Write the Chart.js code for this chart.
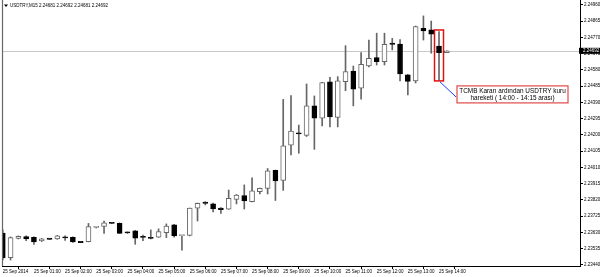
<!DOCTYPE html>
<html>
<head>
<meta charset="utf-8">
<title>USDTRY,M15</title>
<script src="https://cdn.jsdelivr.net/npm/chart.js@4.4.1/dist/chart.umd.min.js"></script>
<style>
  html, body { margin: 0; padding: 0; background: #fff; }
  .chart-box { width: 600px; height: 277px; position: relative; }
</style>
</head>
<body>
<div class="chart-box"><canvas id="candle-chart"></canvas></div>
<script>
// USDTRY M15 candles, 25 Sep 2014 00:00 - 14:15
const symbol = "USDTRY,M15";
const opens = [2.23627, 2.23483, 2.23595, 2.23606, 2.23601, 2.23580, 2.23591, 2.23592, 2.23599, 2.23601,
  2.23573, 2.23576, 2.23659, 2.23666, 2.23684, 2.23683, 2.23630, 2.23639, 2.23604, 2.23598,
  2.23602, 2.23629, 2.23674, 2.23611, 2.23613, 2.23772, 2.23802, 2.23798, 2.23772, 2.23766,
  2.23823, 2.23846, 2.23810, 2.23869, 2.23888, 2.23993, 2.23934, 2.24140, 2.24212, 2.24198,
  2.24370, 2.24298, 2.24510, 2.24303, 2.24512, 2.24574, 2.24473, 2.24603, 2.24652, 2.24629,
  2.24732, 2.24731, 2.24551, 2.24516, 2.24824, 2.24814, 2.24720, 2.24681];
const highs = [2.23645, 2.23604, 2.23610, 2.23611, 2.23604, 2.23595, 2.23592, 2.23613, 2.23610, 2.23604,
  2.23574, 2.23683, 2.23665, 2.23697, 2.23686, 2.23686, 2.23633, 2.23642, 2.23615, 2.23645,
  2.23651, 2.23680, 2.23677, 2.23613, 2.23773, 2.23802, 2.23810, 2.23802, 2.23776, 2.23878,
  2.23852, 2.23908, 2.23949, 2.23890, 2.24004, 2.23995, 2.24408, 2.24430, 2.24258, 2.24498,
  2.24428, 2.24508, 2.24537, 2.24541, 2.24722, 2.24603, 2.24681, 2.24755, 2.24795, 2.24795,
  2.24765, 2.24758, 2.24554, 2.24837, 2.24896, 2.24866, 2.24805, 2.24692];
const lows = [2.23469, 2.23469, 2.23592, 2.23582, 2.23560, 2.23577, 2.23589, 2.23590, 2.23583, 2.23572,
  2.23570, 2.23575, 2.23656, 2.23625, 2.23681, 2.23624, 2.23624, 2.23561, 2.23582, 2.23592,
  2.23601, 2.23600, 2.23602, 2.23526, 2.23610, 2.23697, 2.23791, 2.23750, 2.23742, 2.23765,
  2.23797, 2.23767, 2.23808, 2.23855, 2.23855, 2.23817, 2.23876, 2.24083, 2.24093, 2.24191,
  2.24116, 2.24253, 2.24247, 2.24247, 2.24459, 2.24370, 2.24409, 2.24598, 2.24609, 2.24609,
  2.24697, 2.24516, 2.24434, 2.24504, 2.24755, 2.24678, 2.24519, 2.24681];
const closes = [2.23481, 2.23600, 2.23607, 2.23592, 2.23575, 2.23593, 2.23590, 2.23611, 2.23598, 2.23575,
  2.23571, 2.23665, 2.23660, 2.23686, 2.23683, 2.23625, 2.23627, 2.23596, 2.23601, 2.23595,
  2.23635, 2.23668, 2.23610, 2.23612, 2.23772, 2.23801, 2.23800, 2.23767, 2.23763, 2.23830,
  2.23849, 2.23814, 2.23873, 2.23888, 2.23990, 2.23931, 2.24136, 2.24223, 2.24206, 2.24370,
  2.24298, 2.24506, 2.24305, 2.24516, 2.24570, 2.24467, 2.24613, 2.24648, 2.24629, 2.24730,
  2.24730, 2.24557, 2.24513, 2.24833, 2.24808, 2.24789, 2.24681, 2.24692];

// one label every 4 bars (hourly)
const xLabels = ["25 Sep 2014", "25 Sep 01:00", "25 Sep 02:00", "25 Sep 03:00", "25 Sep 04:00",
  "25 Sep 05:00", "25 Sep 06:00", "25 Sep 07:00", "25 Sep 08:00", "25 Sep 09:00",
  "25 Sep 10:00", "25 Sep 11:00", "25 Sep 12:00", "25 Sep 13:00", "25 Sep 14:00"];
const yTicks = [2.23440, 2.23535, 2.23630, 2.23725, 2.23820, 2.23915, 2.24010, 2.24105, 2.24200,
  2.24295, 2.24390, 2.24485, 2.24580, 2.24675, 2.24770, 2.24865, 2.24960];

const bidPrice = 2.24692;
const noteBar = 56;
const noteLines = ["TCMB Kararı ardından USDTRY kuru", "hareketi ( 14:00 - 14:15 arası)"];

const smallFont = "4.5px 'Liberation Sans'";
const last = opens.length - 1;

// extra drawing: title, bid line, frame and the note
const mt4Overlay = {
  id: "mt4Overlay",
  beforeDatasetsDraw(chart) {
    const { ctx, chartArea, scales } = chart;
    const y = Math.round(scales.y.getPixelForValue(bidPrice)) + 0.5;
    ctx.save();
    ctx.strokeStyle = "#c8c8c8";
    ctx.lineWidth = 1;
    ctx.beginPath();
    ctx.moveTo(chartArea.left, y);
    ctx.lineTo(chartArea.right, y);
    ctx.stroke();
    ctx.restore();
  },
  afterDraw(chart) {
    const { ctx, chartArea, scales } = chart;
    ctx.save();

    // left frame
    ctx.strokeStyle = "#666";
    ctx.lineWidth = 1.2;
    ctx.beginPath();
    ctx.moveTo(chartArea.left + 0.5, 0);
    ctx.lineTo(chartArea.left + 0.5, chartArea.bottom);
    ctx.stroke();

    // title
    ctx.fillStyle = "#000";
    ctx.beginPath();
    ctx.moveTo(4, 4.5);
    ctx.lineTo(8, 4.5);
    ctx.lineTo(6, 7);
    ctx.closePath();
    ctx.fill();
    ctx.font = smallFont;
    ctx.textBaseline = "middle";
    ctx.textAlign = "left";
    const ohlc = [opens[last], highs[last], lows[last], closes[last]].map(v => v.toFixed(5)).join(" ");
    ctx.fillText(symbol + " " + ohlc, 10, 6);

    // bid label on the price axis
    const by = scales.y.getPixelForValue(bidPrice);
    ctx.fillStyle = "#000";
    ctx.fillRect(chartArea.right - 1, by - 3, 22, 6);
    ctx.fillStyle = "#fff";
    ctx.fillText(bidPrice.toFixed(5), chartArea.right + 3, by);

    // red box round the 14:00 candle
    const cx = scales.x.getPixelForValue(noteBar);
    const top = scales.y.getPixelForValue(highs[noteBar]) - 1.5;
    const bottom = scales.y.getPixelForValue(lows[noteBar]) + 0.5;
    ctx.strokeStyle = "#e01010";
    ctx.lineWidth = 1.5;
    ctx.strokeRect(cx - 4.5, top, 9, bottom - top);

    // blue pointer
    ctx.strokeStyle = "#1a3cff";
    ctx.lineWidth = 1;
    ctx.beginPath();
    ctx.moveTo(cx + 1, bottom + 1);
    ctx.lineTo(cx + 17, bottom + 16);
    ctx.stroke();

    // note text box
    const bx = cx + 18, bw = 111, bh = 17, byTop = bottom + 5;
    ctx.fillStyle = "#fff";
    ctx.fillRect(bx, byTop, bw, bh);
    ctx.strokeStyle = "#e04848";
    ctx.lineWidth = 1.2;
    ctx.strokeRect(bx, byTop, bw, bh);
    ctx.fillStyle = "#000";
    ctx.font = "6.4px 'Liberation Sans'";
    ctx.textAlign = "center";
    ctx.fillText(noteLines[0], bx + bw / 2, byTop + 5.2);
    ctx.fillText(noteLines[1], bx + bw / 2, byTop + 12.2);

    ctx.restore();
  }
};

// chart
const candleCtx = document.getElementById("candle-chart");
if (candleCtx) {
  new Chart(candleCtx, {
    type: "bar",
    data: {
      datasets: [
        {
          label: "bodies",
          data: opens.map((o, i) => ({ x: i, y: [Math.min(o, closes[i]), Math.max(o, closes[i])] })),
          backgroundColor: opens.map((o, i) => (closes[i] < o ? "#000" : "#fff")),
          borderColor: opens.map((o, i) => (closes[i] < o ? "#000" : "#666")),
          borderWidth: 1,
          borderSkipped: false,
          barThickness: 5,
          minBarLength: 1.2,
          grouped: false,
          order: 0,
        },
        {
          label: "wicks",
          data: highs.map((h, i) => ({ x: i, y: [lows[i], h] })),
          backgroundColor: "#666",
          borderWidth: 0,
          barThickness: 1,
          grouped: false,
          order: 1,
        },
      ],
    },
    options: {
      responsive: true,
      maintainAspectRatio: false,
      animation: false,
      layout: {
        autoPadding: false,
        padding: { left: 2, top: 0, right: 0, bottom: 0 },
      },
      plugins: {
        legend: { display: false },
        title: { display: false },
        tooltip: { enabled: false },
      },
      scales: {
        x: {
          type: "linear",
          offset: false,
          min: -0.1,
          max: 74.1,
          grid: { drawOnChartArea: false, tickLength: 3, color: "#000" },
          border: { color: "#000", width: 1 },
          ticks: {
            font: { family: "Liberation Sans", size: 4.5 },
            color: "#000",
            align: "start",
            padding: 0,
            autoSkip: false,
            maxRotation: 0,
            minRotation: 0,
            callback: (v, idx) => xLabels[idx],
          },
          afterBuildTicks: (scale) => {
            scale.ticks = xLabels.map((_, j) => ({ value: j * 4 }));
          },
          afterFit: (scale) => {
            scale.height = 11;
            scale.paddingLeft = 0;
            scale.paddingRight = 0;
          },
        },
        y: {
          type: "linear",
          position: "right",
          min: 2.23434,
          max: 2.24989,
          grid: { drawOnChartArea: false, tickLength: 3, color: "#000" },
          border: { color: "#000", width: 1 },
          ticks: {
            font: { family: "Liberation Sans", size: 4.5 },
            color: "#000",
            padding: 1,
            callback: (v) => v.toFixed(5),
          },
          afterBuildTicks: (scale) => {
            scale.ticks = yTicks.map((v) => ({ value: v }));
          },
          afterFit: (scale) => {
            scale.width = 20;
            scale.paddingTop = 0;
            scale.paddingBottom = 0;
          },
        },
      },
    },
    plugins: [mt4Overlay],
  });
}
</script>
</body>
</html>
